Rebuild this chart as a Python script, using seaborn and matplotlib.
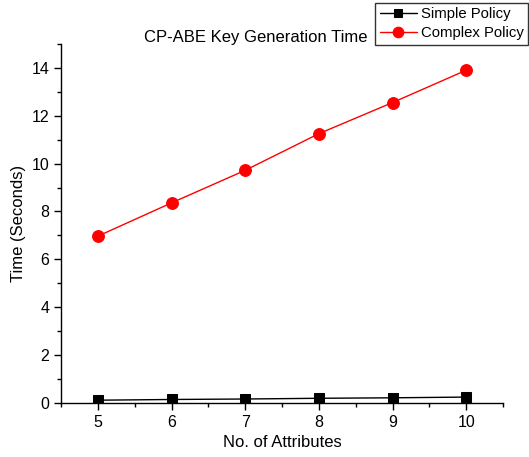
import numpy as np
import pandas as pd
import matplotlib
matplotlib.use("Agg")
import matplotlib.pyplot as plt
import seaborn as sns
from matplotlib.ticker import MultipleLocator

# Values
attributes = [5, 6, 7, 8, 9, 10]
simple_policy = [0.12, 0.15, 0.17, 0.20, 0.22, 0.25]
complex_policy = [6.97, 8.36, 9.72, 11.25, 12.55, 13.90]

sns.set_style("ticks")
plt.rcParams["font.family"] = ["Liberation Sans", "DejaVu Sans"]
plt.rcParams["text.color"] = "black"
plt.rcParams["axes.labelcolor"] = "black"
plt.rcParams["xtick.color"] = "black"
plt.rcParams["ytick.color"] = "black"

fig = plt.figure(figsize=(5.29, 4.57), dpi=100)
ax = fig.add_axes([0.1153, 0.118, 0.8357, 0.786])

sns.lineplot(x=attributes, y=simple_policy, ax=ax, color="black", marker="s",
             markersize=7, markeredgecolor="black", linewidth=1,
             label="Simple Policy")
sns.lineplot(x=attributes, y=complex_policy, ax=ax, color="red", marker="o",
             markersize=8.5, markeredgecolor="red", linewidth=1,
             label="Complex Policy")

ax.set_xlim(4.5, 10.5)
ax.set_ylim(0, 15)
ax.xaxis.set_major_locator(MultipleLocator(1))
ax.xaxis.set_minor_locator(MultipleLocator(0.5))
ax.yaxis.set_major_locator(MultipleLocator(2))
ax.yaxis.set_minor_locator(MultipleLocator(1))
ax.tick_params(which="major", length=5, width=1, color="black",
               labelcolor="black", labelsize=11.5)
ax.tick_params(which="minor", length=3, width=1, color="black")
for side in ["left", "bottom"]:
    ax.spines[side].set_color("black")
    ax.spines[side].set_linewidth(1)
sns.despine(ax=ax)

ax.set_xlabel("No. of Attributes", fontsize=12, color="black")
ax.set_ylabel("Time (Seconds)", fontsize=12, color="black")

fig.text(0.484, 0.917, "CP-ABE Key Generation Time", ha="center",
         va="center", fontsize=12, color="black")

ax.get_legend().remove()
handles, labels = ax.get_legend_handles_labels()
leg = fig.legend(handles, labels, loc="upper right",
                 bbox_to_anchor=(0.999, 0.994), fontsize=10.7,
                 frameon=True, fancybox=False, borderpad=0.3,
                 labelspacing=0.35, handlelength=2.5, handletextpad=0.3,
                 borderaxespad=0, markerscale=0.9, labelcolor="black")
leg.get_frame().set_edgecolor("black")
leg.get_frame().set_linewidth(1)

fig.savefig("out.png", dpi=100)
